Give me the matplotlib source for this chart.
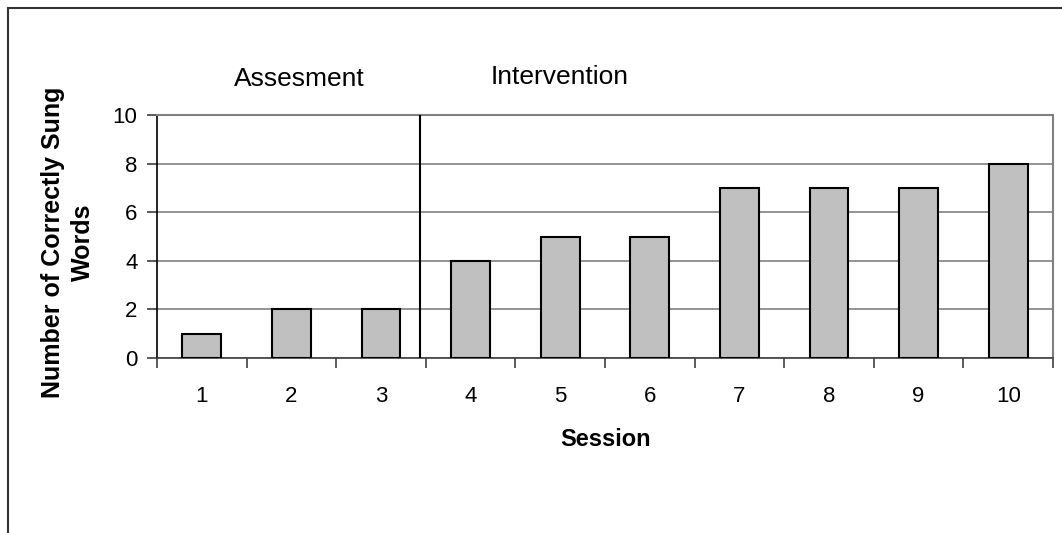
import numpy as np
import matplotlib
matplotlib.use('Agg')
import matplotlib.pyplot as plt
from matplotlib.lines import Line2D

plt.rcParams['font.family'] = ['Liberation Sans', 'DejaVu Sans']

sessions = [1, 2, 3, 4, 5, 6, 7, 8, 9, 10]
words = [1, 2, 2, 4, 5, 5, 7, 7, 7, 8]
phase_labels = ['Assesment', 'Intervention']
phase_x = [2.09, 4.99]
phase_y = [11.19, 11.28]
phase_line_x = 3.44

W, H = 1062, 533
fig = plt.figure(figsize=(W / 100, H / 100), dpi=100)
ax = fig.add_axes([157 / W, 1 - 358 / H, (1053 - 157) / W, (358 - 115) / H])

x = np.array(sessions)
ax.bar(x, words, width=0.435, color='#c0c0c0', edgecolor='black', linewidth=1.5, zorder=3)
ax.set_xlim(0.5, 10.5)
ax.set_ylim(0, 10)

ax.set_yticks(range(0, 11, 2))
ax.yaxis.grid(True, color='#808080', linewidth=1.2, zorder=0)
ax.set_xticks(x)
ax.set_xticks(np.arange(0.5, 11, 1), minor=True)
ax.tick_params(axis='x', which='major', length=0, pad=20, labelsize=16)
ax.tick_params(axis='x', which='minor', length=7, width=1.2, color='#404040', direction='out')
ax.tick_params(axis='y', length=7, width=1.2, color='#404040', pad=7, labelsize=16)

for side in ['top', 'right']:
    ax.spines[side].set_color('#808080')
    ax.spines[side].set_linewidth(1.5)
ax.spines['left'].set_color('black')
ax.spines['bottom'].set_color('#404040')
for side in ['left', 'bottom']:
    ax.spines[side].set_linewidth(1.2)

ax.axvline(phase_line_x, color='black', linewidth=1.5, zorder=4)
for lbl, px, py in zip(phase_labels, phase_x, phase_y):
    ax.text(px, py, lbl, ha='center', va='baseline', fontsize=19, clip_on=False)

fig.text(606 / W, 1 - 446 / H, 'Session', ha='center', va='baseline', fontsize=17, fontweight='bold')
fig.text(68 / W, 1 - 242 / H, 'Number of Correctly Sung\nWords', ha='center', va='center',
         rotation=90, fontsize=18, fontweight='bold', linespacing=1.35, multialignment='center')

# outer chart border (cut off at right and bottom)
fig.add_artist(Line2D([8 / W, 1.0], [1 - 8 / H, 1 - 8 / H], color='#333333', linewidth=1.5))
fig.add_artist(Line2D([8 / W, 8 / W], [0.0, 1 - 8 / H], color='#333333', linewidth=1.5))

fig.savefig('out.png', dpi=100, facecolor='white')
